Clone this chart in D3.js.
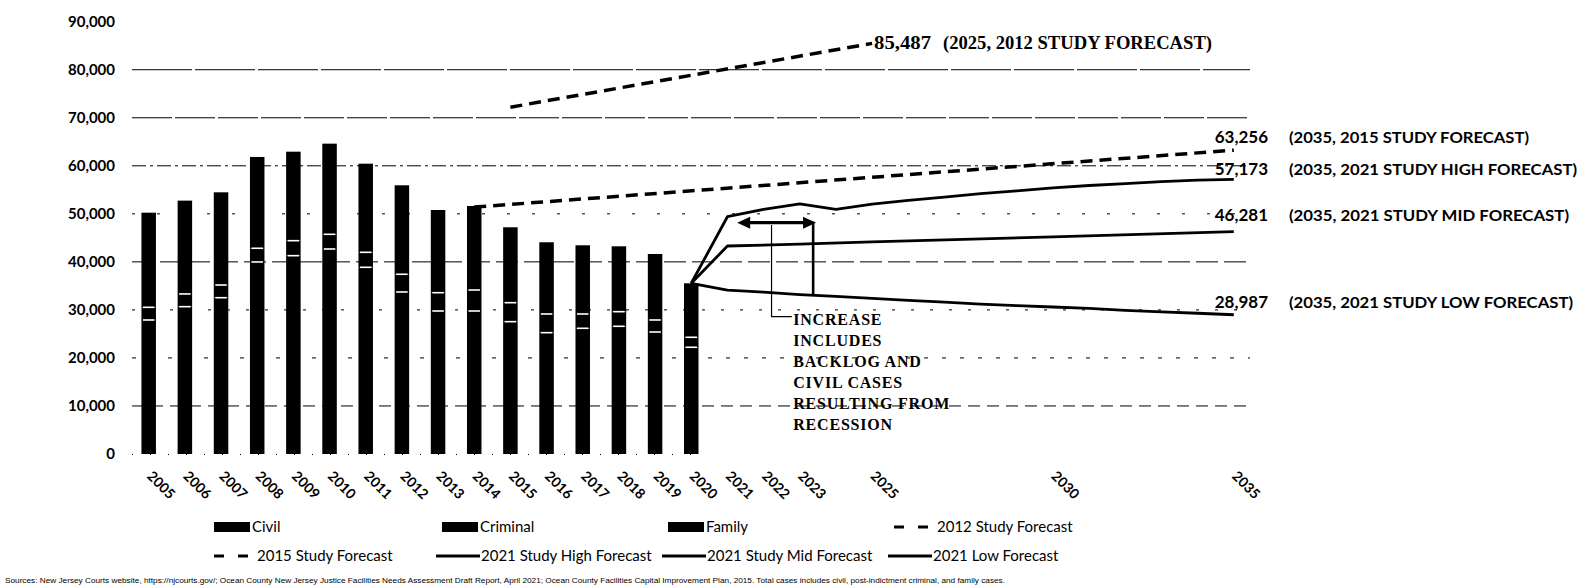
<!DOCTYPE html>
<html><head><meta charset="utf-8">
<script src="https://cdn.jsdelivr.net/npm/d3@7"></script>
<style>body{margin:0;background:#fff} svg{display:block;background:#fff}</style>
</head><body><svg id="c" width="1582" height="586"></svg>
<script>
// ---------- data ----------
const years    = [2005,2006,2007,2008,2009,2010,2011,2012,2013,2014,2015,2016,2017,2018,2019,2020];
const civil    = [27900,30670,32540,39980,41290,42680,38870,33730,29770,29770,27550,25260,26170,26590,25400,22220];
const criminal = [2640,2650,2640,2850,3120,3060,3120,3690,3810,4370,3950,3890,2980,3040,2500,2080];
const family   = [19700,19430,19300,19010,18530,18870,18450,18520,17220,17490,15700,14930,14300,13610,13740,11240];

const yTickValues = [0,10000,20000,30000,40000,50000,60000,70000,80000,90000];
const gridValues  = [10000,20000,30000,40000,50000,60000,70000,80000];
const xTickYears  = [2005,2006,2007,2008,2009,2010,2011,2012,2013,2014,2015,2016,2017,2018,2019,2020,2021,2022,2023,2025,2030,2035];

const f2012Years  = [2015, 2025];
const f2012Values = [72200, 85487];
const f2015Years  = [2014, 2035];
const f2015Values = [51400, 63256];
const highYears   = [2020,2021,2022,2023,2024,2025,2026,2027,2028,2029,2030,2031,2032,2033,2034,2035];
const highValues  = [35540,49400,50950,52050,50950,52000,52800,53500,54200,54800,55400,55900,56300,56700,57000,57173];
const midYears    = [2020,2021,2023,2025,2030,2035];
const midValues   = [35540,43300,43700,44150,45200,46281];
const lowYears    = [2020,2021,2022,2023,2024,2025,2026,2027,2028,2029,2030,2031,2032,2033,2034,2035];
const lowValues   = [35540,34100,33700,33200,32800,32400,32000,31600,31200,30900,30600,30300,29900,29600,29300,28987];

const endValues   = ["63,256","57,173","46,281","28,987"];
const endNotes    = ["(2035, 2015 STUDY FORECAST)","(2035, 2021 STUDY HIGH FORECAST)","(2035, 2021 STUDY MID FORECAST)","(2035, 2021 STUDY LOW FORECAST)"];
const note2012Value = "85,487";
const note2012Text  = "(2025, 2012 STUDY FORECAST)";
const annotationLines = ["INCREASE","INCLUDES","BACKLOG AND","CIVIL CASES","RESULTING FROM","RECESSION"];
const legendRow1 = ["Civil","Criminal","Family","2012 Study Forecast"];
const legendRow2 = ["2015 Study Forecast","2021 Study High Forecast","2021 Study Mid Forecast","2021 Low Forecast"];
const sourceText = "Sources: New Jersey Courts website, https://njcourts.gov/; Ocean County New Jersey Justice Facilities Needs Assessment Draft Report, April 2021; Ocean County Facilities Capital Improvement Plan, 2015.  Total cases includes civil, post-indictment criminal, and family cases.";

// ---------- layout ----------
const svg = d3.select("#c");
const x = d3.scaleLinear().domain([2005,2035]).range([148.7,1233.8]);
const y = d3.scaleLinear().domain([0,90000]).range([454,21.7]);
const barW = 14.5;

// gridlines
const gridDash = {10000:"12,7",20000:"4,14",30000:"3,16",40000:"22,6",50000:"3,22",60000:"14,4,3,4",70000:"40,3",80000:"60,3"};
svg.append("g").selectAll("line").data(gridValues).join("line")
  .attr("x1",132).attr("x2",1250)
  .attr("y1",d=>y(d)).attr("y2",d=>y(d))
  .attr("stroke","#000").attr("stroke-width",1)
  .attr("stroke-dasharray",d=>gridDash[d]);
// faint baseline
svg.append("line").attr("x1",132).attr("x2",700).attr("y1",y(0)+0.5).attr("y2",y(0)+0.5)
  .attr("stroke","#000").attr("stroke-width",1).attr("stroke-dasharray","1,17");

// y axis
const yAxis = svg.append("g").attr("transform","translate(117,0)")
  .call(d3.axisLeft(y).tickValues(yTickValues).tickSize(0).tickPadding(2).tickFormat(d3.format(",")));
yAxis.select(".domain").remove();
yAxis.selectAll("text").attr("font-family","Lato").attr("font-weight","bold").attr("font-size",15).attr("fill","#000");

// x axis
const xAxis = svg.append("g").attr("transform",`translate(0,${y(0)})`)
  .call(d3.axisBottom(x).tickValues(xTickYears).tickSize(0).tickFormat(d3.format("d")));
xAxis.select(".domain").remove();
xAxis.selectAll("text")
  .attr("font-family","Lato").attr("font-weight","bold").attr("font-size",14).attr("fill","#000")
  .attr("y",0).attr("dy","0.35em").attr("text-anchor","middle")
  .attr("transform","translate(12,31) rotate(45)");

// stacked bars
const rows = years.map((yr,i)=>({year:yr,civil:civil[i],criminal:criminal[i],family:family[i]}));
const stack = d3.stack().keys(["civil","criminal","family"])(rows);
const gBars = svg.append("g");
stack.forEach(layer=>{
  gBars.append("g").selectAll("rect").data(layer).join("rect")
    .attr("x",d=>x(d.data.year)-barW/2).attr("width",barW)
    .attr("y",d=>y(d[1])).attr("height",d=>y(d[0])-y(d[1]))
    .attr("fill","#000");
});
stack.slice(0,2).forEach(layer=>{
  gBars.append("g").selectAll("line").data(layer).join("line")
    .attr("x1",d=>x(d.data.year)-barW/2+1.5).attr("x2",d=>x(d.data.year)+barW/2-1.5)
    .attr("y1",d=>y(d[1])).attr("y2",d=>y(d[1]))
    .attr("stroke","#fff").attr("stroke-width",1.6);
});

// forecast lines
const line = d3.line().x(d=>x(d[0])).y(d=>y(d[1]));
function drawLine(yrs, vals, dashed){
  svg.append("path").datum(yrs.map((yr,i)=>[yr,vals[i]]))
    .attr("d",line).attr("fill","none").attr("stroke","#000")
    .attr("stroke-width",dashed?3.5:2.8)
    .attr("stroke-dasharray",dashed?"12,7":null)
    .attr("stroke-linejoin","round");
}
drawLine(f2012Years,f2012Values,true);
drawLine(f2015Years,f2015Values,true);
drawLine(highYears,highValues,false);
drawLine(midYears,midValues,false);
drawLine(lowYears,lowValues,false);

// annotation: double arrow + brackets
const arrowY = y(48160), ax1 = x(2021.27), ax2 = x(2023.45);
svg.append("line").attr("x1",ax1+10).attr("x2",ax2-10).attr("y1",arrowY).attr("y2",arrowY)
  .attr("stroke","#000").attr("stroke-width",3.2);
svg.append("path").attr("d",`M${ax1},${arrowY} L${ax1+13},${arrowY-6} L${ax1+13},${arrowY+6} Z`).attr("fill","#000");
svg.append("path").attr("d",`M${ax2},${arrowY} L${ax2-13},${arrowY-6} L${ax2-13},${arrowY+6} Z`).attr("fill","#000");
svg.append("line").attr("x1",x(2023.37)).attr("x2",x(2023.37)).attr("y1",arrowY-1).attr("y2",y(33100))
  .attr("stroke","#000").attr("stroke-width",2.6);
svg.append("path").attr("d",`M${x(2022.22)},${y(47680)} V${y(28590)} H${x(2022.78)}`)
  .attr("fill","none").attr("stroke","#000").attr("stroke-width",1.2);
svg.append("g").selectAll("text").data(annotationLines).join("text")
  .attr("x",x(2022.82)).attr("y",(d,i)=>325+i*21)
  .attr("font-family","Liberation Serif").attr("font-weight","bold").attr("font-size",16)
  .attr("letter-spacing",0.8).attr("fill","#000").text(d=>d);

// 2012 note
svg.append("text").attr("x",x(2025)+2).attr("y",y(85487)+6)
  .attr("font-family","Liberation Serif").attr("font-weight","bold").attr("font-size",19)
  .attr("textLength",57).attr("lengthAdjust","spacingAndGlyphs").text(note2012Value);
svg.append("text").attr("x",943).attr("y",y(85487)+6)
  .attr("font-family","Liberation Serif").attr("font-weight","bold").attr("font-size",19)
  .attr("textLength",269).attr("lengthAdjust","spacingAndGlyphs").text(note2012Text);

// end labels
const endY = [142.5,174.5,220.5,308];
const noteLen = [240,288,280,284];
svg.append("g").selectAll("text").data(endValues).join("text")
  .attr("x",1268).attr("y",(d,i)=>endY[i]).attr("text-anchor","end")
  .attr("font-family","Lato").attr("font-weight","bold").attr("font-size",17).text(d=>d);
svg.append("g").selectAll("text").data(endNotes).join("text")
  .attr("x",1289).attr("y",(d,i)=>endY[i])
  .attr("font-family","Lato").attr("font-weight","bold").attr("font-size",16)
  .attr("textLength",(d,i)=>noteLen[i]).attr("lengthAdjust","spacingAndGlyphs").text(d=>d);

// legend
const legX = [214,442,668,894];
const kinds1 = ["rect","rect","rect","dash"], kinds2 = ["dash","line","line","line"];
function legendRow(labels, kinds, cy){
  labels.forEach((lab,i)=>{
    const x0 = legX[i]; let tx;
    if(kinds[i]==="rect"){
      svg.append("rect").attr("x",x0).attr("y",cy-5).attr("width",36).attr("height",10).attr("fill","#000");
      tx = x0+38;
    } else if(kinds[i]==="dash"){
      svg.append("line").attr("x1",x0).attr("x2",x0+34).attr("y1",cy).attr("y2",cy)
        .attr("stroke","#000").attr("stroke-width",3).attr("stroke-dasharray","10,14");
      tx = x0+43;
    } else {
      svg.append("line").attr("x1",x0-6).attr("x2",x0+38).attr("y1",cy).attr("y2",cy)
        .attr("stroke","#000").attr("stroke-width",3);
      tx = x0+39;
    }
    svg.append("text").attr("x",tx).attr("y",cy).attr("dy","0.35em")
      .attr("font-family","Lato").attr("font-size",15).attr("fill","#000").text(lab);
  });
}
legendRow(legendRow1,kinds1,527);
legendRow(legendRow2,kinds2,556);

// source
svg.append("text").attr("x",5).attr("y",583)
  .attr("font-family","Liberation Sans").attr("font-size",6.5)
  .attr("textLength",1000).attr("lengthAdjust","spacingAndGlyphs").text(sourceText);
</script></body></html>
